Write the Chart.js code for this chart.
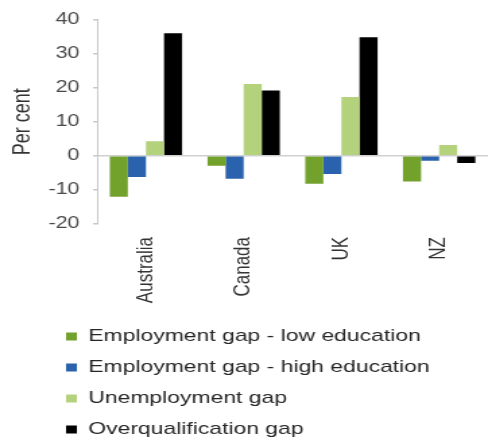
<!DOCTYPE html>
<html>
<head>
<meta charset="utf-8">
<script src="https://cdn.jsdelivr.net/npm/chart.js@4"></script>
<style>
  html, body { margin: 0; padding: 0; background: #fff; }
</style>
</head>
<body>
<canvas id="chart" width="362" height="442" style="display:block;width:488px;height:442px"></canvas>
<script>
const countries = ["Australia", "Canada", "UK", "NZ"];
const lowEducationGap = [-12, -2.9, -8.2, -7.5];
const highEducationGap = [-6.2, -6.7, -5.3, -1.4];
const unemploymentGap = [4.3, 21.1, 17.3, 3.2];
const overqualificationGap = [36, 19.2, 34.8, -2.1];
const yTicks = [-20, -10, 0, 10, 20, 30, 40];

// the reference picture is stretched sideways, the canvas is drawn narrow and widened by css
const shiftLegend = {
    id: "shiftLegend",
    afterLayout(chart) {
        const legend = chart.legend;
        legend.left += 35;
        legend.right += 35;
        legend.top += 6;
        legend.bottom += 6;
    }
};

function makeSet(label, data, color) {
    return {
        label: label,
        data: data,
        backgroundColor: color,
        borderWidth: 0,
        categoryPercentage: 0.74,
        barPercentage: 1.0,
    };
}

new Chart(document.querySelector("#chart"), {
    type: "bar",
    data: {
        labels: countries,
        datasets: [
            makeSet("Employment gap - low education", lowEducationGap, "#72a12c"),
            makeSet("Employment gap - high education", highEducationGap, "#2a62ad"),
            makeSet("Unemployment gap", unemploymentGap, "#b4d27c"),
            makeSet("Overqualification gap", overqualificationGap, "#000000"),
        ]
    },
    plugins: [shiftLegend],
    options: {
        responsive: false,
        animation: false,
        layout: {
            padding: { top: 16, right: 0, bottom: 0, left: 0 }
        },
        scales: {
            x: {
                grid: { display: false, drawTicks: false },
                border: { display: false },
                ticks: {
                    minRotation: 90,
                    maxRotation: 90,
                    padding: 13,
                    color: "#333333",
                    font: { family: "Liberation Sans", size: 17 }
                },
                afterFit: (scale) => { scale.height = 84; }
            },
            y: {
                min: -20,
                max: 40,
                afterBuildTicks: (scale) => {
                    scale.ticks = yTicks.map((v) => ({ value: v }));
                },
                grid: {
                    color: (ctx) => ctx.tick && ctx.tick.value === 0 ? "#d0d0d0" : "rgba(0,0,0,0)",
                    tickColor: "#c8c8c8",
                    tickLength: 3,
                    lineWidth: 1.5,
                },
                border: { display: true, color: "#c8c8c8" },
                ticks: {
                    padding: 10,
                    color: "#4a4a4a",
                    font: { family: "Liberation Sans", size: 16 }
                },
                title: {
                    display: true,
                    text: "Per cent",
                    color: "#333333",
                    padding: { top: 6, bottom: 4 },
                    font: { family: "Liberation Sans", size: 18 }
                },
                afterFit: (scale) => { scale.width = 72; }
            }
        },
        plugins: {
            legend: {
                position: "bottom",
                align: "start",
                labels: {
                    boxWidth: 8,
                    boxHeight: 8,
                    padding: 14,
                    color: "#262626",
                    font: { family: "Liberation Sans", size: 17 }
                }
            },
            tooltip: { enabled: false }
        }
    }
});
</script>
</body>
</html>
